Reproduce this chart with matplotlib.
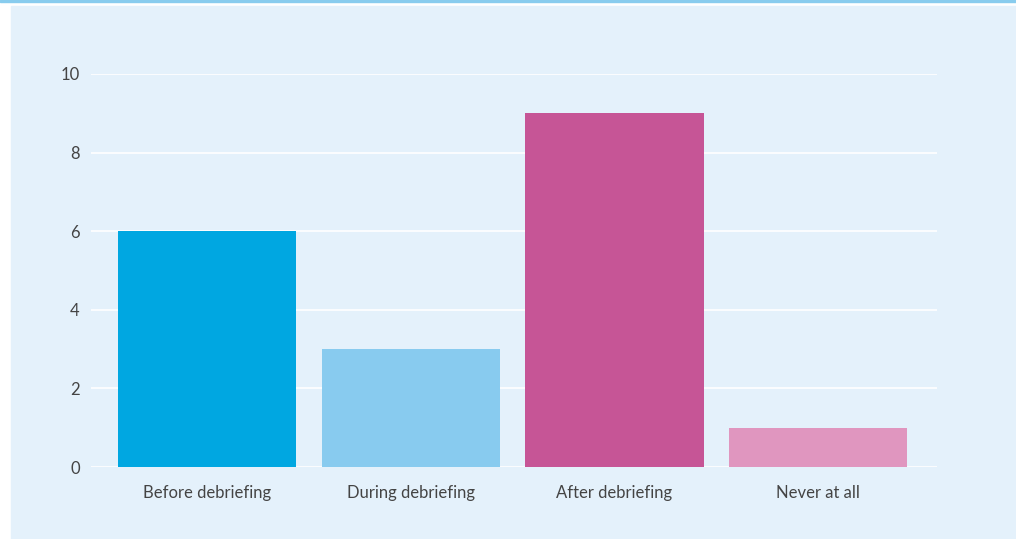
import matplotlib.pyplot as plt
from matplotlib.patches import Rectangle

categories = ['Before debriefing', 'During debriefing', 'After debriefing', 'Never at all']
counts = [6, 3, 9, 1]
colors = ['#00a7e1', '#88cbef', '#c65596', '#e096bf']

plt.rcParams['font.family'] = ['Lato', 'DejaVu Sans']

fig = plt.figure(figsize=(10.16, 5.39), dpi=100)
fig.patch.set_facecolor('white')

# top strip and light blue panel (behind the axes)
fig.patches.append(Rectangle((0, 1 - 2 / 539), 1, 2 / 539, transform=fig.transFigure,
                             color='#88ccee', zorder=-10))
fig.patches.append(Rectangle((11 / 1016, 0), 1 - 11 / 1016, 1 - 6 / 539,
                             transform=fig.transFigure, color='#e4f1fb', zorder=-10))

ax = fig.add_axes([91 / 1016, 1 - 467 / 539, (937 - 91) / 1016, (467 - 74) / 539])
ax.set_facecolor('none')

x = range(len(categories))
ax.bar(x, counts, width=0.875, color=colors, zorder=3)

ax.set_xlim(-0.569, 3.583)
ax.set_ylim(0, 10)
ax.set_yticks([0, 2, 4, 6, 8, 10])
ax.set_xticks(list(x))
ax.set_xticklabels(categories)
ax.grid(axis='y', color='white', linewidth=1.2, zorder=1)
ax.set_axisbelow(True)
for s in ax.spines.values():
    s.set_visible(False)
ax.tick_params(length=0, labelsize=12, colors='#444444')
ax.tick_params(axis='y', pad=8)
ax.tick_params(axis='x', pad=13)

fig.savefig('out.png', dpi=100, facecolor=fig.get_facecolor())
